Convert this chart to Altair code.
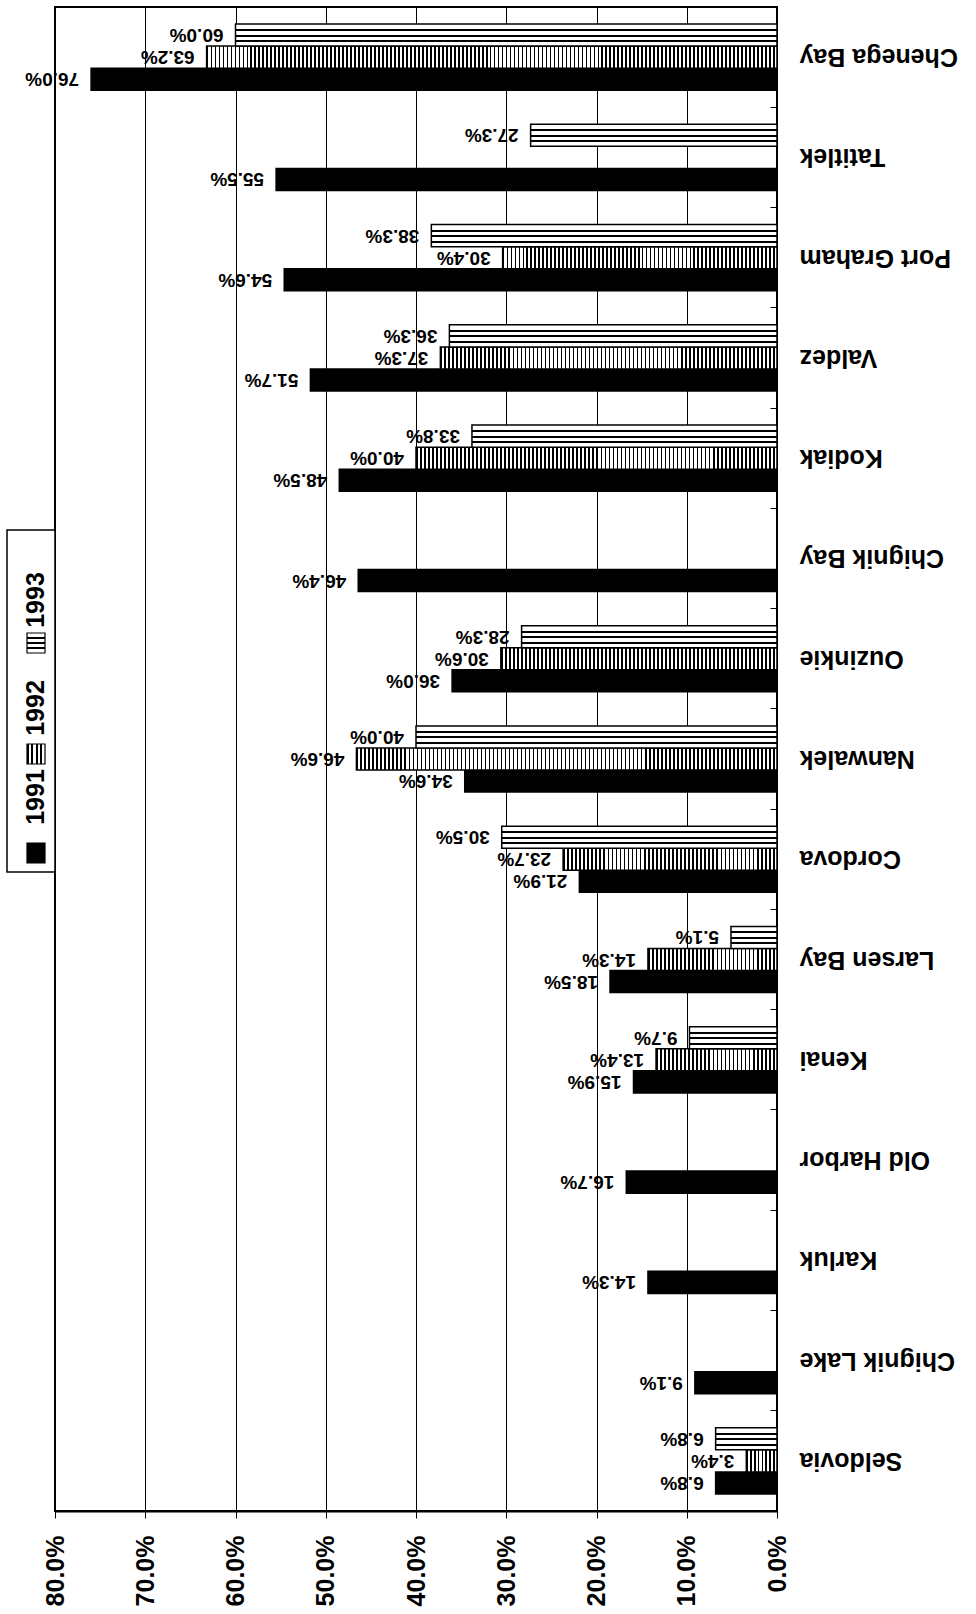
import altair as alt
import pandas as pd

# ---------------- data ----------------
SITES = ["Seldovia", "Chignik Lake", "Karluk", "Old Harbor", "Kenai", "Larsen Bay",
         "Cordova", "Nanwalek", "Ouzinkie", "Chignik Bay", "Kodiak", "Valdez",
         "Port Graham", "Tatitlek", "Chenega Bay"]
YEARS = ["1991", "1992", "1993"]
V1991 = [6.8, 9.1, 14.3, 16.7, 15.9, 18.5, 21.9, 34.6, 36.0, 46.4, 48.5, 51.7, 54.6, 55.5, 76.0]
V1992 = [3.4, None, None, None, 13.4, 14.3, 23.7, 46.6, 30.6, None, 40.0, 37.3, 30.4, None, 63.2]
V1993 = [6.8, None, None, None, 9.7, 5.1, 30.5, 40.0, 28.3, None, 33.8, 36.3, 38.3, 27.3, 60.0]
X_TICKS = [0, 10, 20, 30, 40, 50, 60, 70, 80]

rows = []
for i, s in enumerate(SITES):
    for yr, vals in zip(YEARS, [V1991, V1992, V1993]):
        if vals[i] is not None:
            rows.append({"site": s, "year": yr, "value": vals[i]})
df = pd.DataFrame(rows)

# ---------------- layout / style ----------------
W, H = 722, 1504
PX_PER_UNIT = W / 80.0
FONT = "Liberation Sans"
P_IN, P_OUT = 0.34, 0.17


def vstripes(n):
    stops = []
    for i in range(n):
        a = i / n
        b = (i + 0.42) / n
        stops += [{"offset": a, "color": "white"}, {"offset": a, "color": "black"},
                  {"offset": b, "color": "black"}, {"offset": b, "color": "white"}]
    return {"gradient": "linear", "x1": 0, "y1": 0, "x2": 1, "y2": 0, "stops": stops}


def hstripes(centers, half=0.045):
    stops = [{"offset": 0, "color": "white"}]
    for c in centers:
        stops += [{"offset": c - half, "color": "white"}, {"offset": c - half, "color": "black"},
                  {"offset": c + half, "color": "black"}, {"offset": c + half, "color": "white"}]
    stops.append({"offset": 1, "color": "white"})
    return {"gradient": "linear", "x1": 0, "y1": 0, "x2": 0, "y2": 1, "stops": stops}


HGRAD = hstripes([0.27, 0.52, 0.77])

conds = [{"test": "datum.year == '1991'", "value": "black"},
         {"test": "datum.year == '1993'", "value": HGRAD}]
for s, v in zip(SITES, V1992):
    if v is not None:
        conds.append({"test": f"datum.year == '1992' && datum.site == '{s}'",
                      "value": vstripes(max(1, round(v * PX_PER_UNIT / 4.0)))})

x_scale = alt.Scale(domain=[0, 80], reverse=True, nice=False, zero=True)
y_scale = alt.Scale(domain=SITES[::-1], paddingInner=P_IN, paddingOuter=P_OUT)
yo_scale = alt.Scale(domain=["1993", "1992", "1991"], paddingInner=0, paddingOuter=0)

x_axis = alt.Axis(values=X_TICKS, labelExpr="format(datum.value, '.1f') + '%'",
                  grid=True, gridColor="black", gridWidth=1, gridOpacity=1,
                  ticks=True, tickColor="black", tickSize=7, tickWidth=1,
                  domain=True, domainColor="black", domainWidth=2,
                  labelAngle=270, labelAlign="right", labelBaseline="middle",
                  labelPadding=17, labelFont=FONT, labelFontSize=25, labelFontWeight="bold",
                  labelColor="black", title=None)

y_label_axis = alt.Axis(orient="right", ticks=False, tickSize=0, domain=False, grid=False,
                        labelAngle=180, labelAlign="right", labelBaseline="middle",
                        labelPadding=22, labelFont=FONT, labelFontSize=25,
                        labelFontWeight="bold", labelColor="black", title=None)

y_tick_axis = alt.Axis(orient="left", offset=-W, labels=False, domain=False, grid=False,
                       ticks=True, tickSize=7, tickColor="black", tickWidth=1,
                       bandPosition=-(P_IN / 2) / (1 - P_IN), title=None)

bars = alt.Chart(df).mark_bar(stroke="black", strokeWidth=1.5).encode(
    x=alt.X("value:Q", scale=x_scale, axis=x_axis),
    y=alt.Y("site:N", scale=y_scale, axis=y_label_axis),
    yOffset=alt.YOffset("year:N", scale=yo_scale),
    fill={"condition": conds, "value": "white"},
)

labels = alt.Chart(df).transform_calculate(
    label="format(datum.value, '.1f') + '%'"
).mark_text(angle=180, align="left", baseline="middle", dx=12,
            font=FONT, fontSize=19, fontWeight="bold", color="black").encode(
    x=alt.X("value:Q", scale=x_scale),
    y=alt.Y("site:N", scale=y_scale, axis=y_tick_axis),
    yOffset=alt.YOffset("year:N", scale=yo_scale),
    text="label:N",
)

# ---------------- legend (rotated, drawn left of the frame) ----------------
LEG_DF = pd.DataFrame({"k": [0]})
LEG_BOX = dict(x=-48, x2=0, y=523, y2=865)
LEG_TEXT_Y = {"1993": 593, "1992": 701, "1991": 790}
LEG_SYM_Y = {"1993": 636, "1992": 747, "1991": 846}
LEG_X = -19
SYM_FILL = {"1991": "black", "1992": vstripes(4), "1993": HGRAD}

legend_layers = [
    alt.Chart(LEG_DF).mark_rect(fill="white", stroke="black", strokeWidth=1.5).encode(
        x=alt.value(LEG_BOX["x"]), x2=alt.value(LEG_BOX["x2"]),
        y=alt.value(LEG_BOX["y"]), y2=alt.value(LEG_BOX["y2"]))
]
for yr in YEARS:
    legend_layers.append(
        alt.Chart(LEG_DF).mark_rect(fill=SYM_FILL[yr], stroke="black", strokeWidth=1.2).encode(
            x=alt.value(LEG_X - 9), x2=alt.value(LEG_X + 9),
            y=alt.value(LEG_SYM_Y[yr] - 10), y2=alt.value(LEG_SYM_Y[yr] + 10)))
    legend_layers.append(
        alt.Chart(LEG_DF).mark_text(angle=270, align="center", baseline="middle",
                                    font=FONT, fontSize=25, fontWeight="bold",
                                    color="black", text=yr).encode(
            x=alt.value(LEG_X), y=alt.value(LEG_TEXT_Y[yr])))

chart = alt.layer(bars, labels, *legend_layers).resolve_axis(y="independent").properties(
    width=W, height=H,
    autosize=alt.AutoSizeParams(type="none"),
    padding={"left": 55, "top": 7, "right": 199, "bottom": 103},
    background="white",
).configure_view(stroke="black", strokeWidth=2)

chart.save("out.html", embed_options={"renderer": "svg", "actions": False})
